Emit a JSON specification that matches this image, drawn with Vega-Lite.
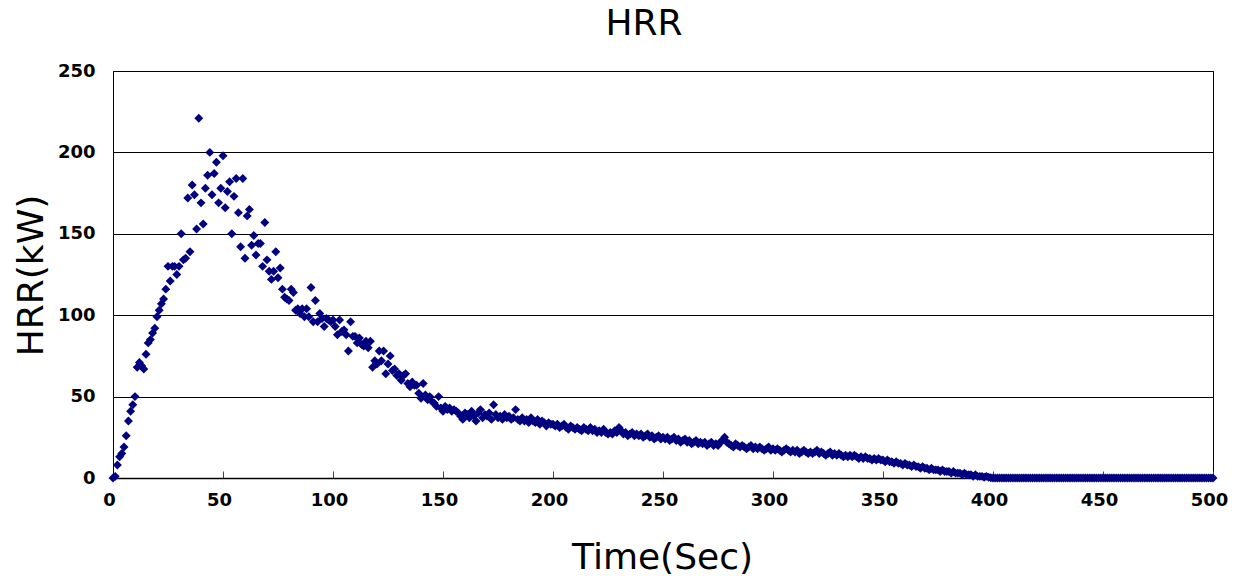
{
 "$schema": "https://vega.github.io/schema/vega-lite/v6.json",
 "width": 1100,
 "height": 407,
 "autosize": {"type": "none"},
 "padding": {"left": 113, "top": 71, "right": 24, "bottom": 98},
 "background": "white",
 "title": {"text": "HRR", "font": "DejaVu Sans", "fontSize": 36, "fontWeight": "normal", "color": "black", "anchor": "middle", "frame": "group", "dx": -19, "dy": 43, "offset": 34, "baseline": "alphabetic"},
 "config": {"view": {"stroke": "black", "strokeWidth": 1}},
 "data": {"values": [
{"t":0,"h":0},{"t":1,"h":1},{"t":2,"h":8},{"t":3,"h":13},{"t":4,"h":15},{"t":5,"h":19},{"t":6,"h":26},{"t":7,"h":35},{"t":8,"h":41},{"t":9,"h":45},
{"t":10,"h":50},{"t":11,"h":68},{"t":12,"h":71},{"t":13,"h":69},{"t":14,"h":67},{"t":15,"h":76},{"t":16,"h":83},{"t":17,"h":85},{"t":18,"h":89},{"t":19,"h":92},
{"t":20,"h":99},{"t":21,"h":103},{"t":22,"h":107},{"t":23,"h":110},{"t":24,"h":116},{"t":25,"h":130},{"t":26,"h":121},{"t":27,"h":130},{"t":28,"h":130},{"t":29,"h":125},
{"t":30,"h":130},{"t":31,"h":150},{"t":32,"h":134},{"t":33,"h":135},{"t":34,"h":172},{"t":35,"h":139},{"t":36,"h":180},{"t":37,"h":174},{"t":38,"h":153},{"t":39,"h":221},
{"t":40,"h":169},{"t":41,"h":156},{"t":42,"h":178},{"t":43,"h":186},{"t":44,"h":200},{"t":45,"h":174},{"t":46,"h":187},{"t":47,"h":194},{"t":48,"h":169},{"t":49,"h":178},
{"t":50,"h":198},{"t":51,"h":166},{"t":52,"h":176},{"t":53,"h":182},{"t":54,"h":150},{"t":55,"h":173},{"t":56,"h":184},{"t":57,"h":163},{"t":58,"h":142},{"t":59,"h":184},
{"t":60,"h":135},{"t":61,"h":161},{"t":62,"h":165},{"t":63,"h":143},{"t":64,"h":149},{"t":65,"h":137},{"t":66,"h":144},{"t":67,"h":144},{"t":68,"h":130},{"t":69,"h":157},
{"t":70,"h":134},{"t":71,"h":127},{"t":72,"h":122},{"t":73,"h":127},{"t":74,"h":139},{"t":75,"h":123},{"t":76,"h":129},{"t":77,"h":116},{"t":78,"h":111},{"t":79,"h":110},
{"t":80,"h":109},{"t":81,"h":116},{"t":82,"h":114},{"t":83,"h":103},{"t":84,"h":104},{"t":85,"h":101},{"t":86,"h":104},{"t":87,"h":99},{"t":88,"h":104},{"t":89,"h":99},
{"t":90,"h":117},{"t":91,"h":96},{"t":92,"h":109},{"t":93,"h":96},{"t":94,"h":101},{"t":95,"h":98},{"t":96,"h":93},{"t":97,"h":98},{"t":98,"h":97},{"t":99,"h":96},
{"t":100,"h":97},{"t":101,"h":93},{"t":102,"h":88},{"t":103,"h":97},{"t":104,"h":90},{"t":105,"h":91},{"t":106,"h":88},{"t":107,"h":78},{"t":108,"h":96},{"t":109,"h":87},
{"t":110,"h":87},{"t":111,"h":83},{"t":112,"h":86},{"t":113,"h":82},{"t":114,"h":81},{"t":115,"h":84},{"t":116,"h":80},{"t":117,"h":84},{"t":118,"h":68},{"t":119,"h":72},
{"t":120,"h":70},{"t":121,"h":78},{"t":122,"h":72},{"t":123,"h":78},{"t":124,"h":64},{"t":125,"h":70},{"t":126,"h":75},{"t":127,"h":66},{"t":128,"h":67},{"t":129,"h":63},
{"t":130,"h":64},{"t":131,"h":60},{"t":132,"h":63},{"t":133,"h":64},{"t":134,"h":58},{"t":135,"h":56},{"t":136,"h":59},{"t":137,"h":57},{"t":138,"h":57},{"t":139,"h":52},
{"t":140,"h":49},{"t":141,"h":58},{"t":142,"h":51},{"t":143,"h":48},{"t":144,"h":50},{"t":145,"h":47},{"t":146,"h":46},{"t":147,"h":44},{"t":148,"h":50},{"t":149,"h":43},
{"t":150,"h":41},{"t":151,"h":44},{"t":152,"h":42},{"t":153,"h":43},{"t":154,"h":41},{"t":155,"h":42},{"t":156,"h":41},{"t":157,"h":40},{"t":158,"h":38},{"t":159,"h":36},
{"t":160,"h":40},{"t":161,"h":39},{"t":162,"h":37},{"t":163,"h":41},{"t":164,"h":38},{"t":165,"h":35},{"t":166,"h":40},{"t":167,"h":42},{"t":168,"h":37},{"t":169,"h":39},
{"t":170,"h":38},{"t":171,"h":40},{"t":172,"h":36},{"t":173,"h":45},{"t":174,"h":39},{"t":175,"h":37},{"t":176,"h":38},{"t":177,"h":36},{"t":178,"h":39},{"t":179,"h":37},
{"t":180,"h":38},{"t":181,"h":36},{"t":182,"h":37},{"t":183,"h":42},{"t":184,"h":36},{"t":185,"h":35},{"t":186,"h":37},{"t":187,"h":35},{"t":188,"h":36},{"t":189,"h":34},
{"t":190,"h":37},{"t":191,"h":35},{"t":192,"h":34},{"t":193,"h":36},{"t":194,"h":33},{"t":195,"h":35},{"t":196,"h":34},{"t":197,"h":32},{"t":198,"h":34},{"t":199,"h":33},
{"t":200,"h":33},{"t":201,"h":32},{"t":202,"h":33},{"t":203,"h":31},{"t":204,"h":32},{"t":205,"h":33},{"t":206,"h":31},{"t":207,"h":30},{"t":208,"h":32},{"t":209,"h":31},
{"t":210,"h":30},{"t":211,"h":31},{"t":212,"h":30},{"t":213,"h":29},{"t":214,"h":31},{"t":215,"h":30},{"t":216,"h":29},{"t":217,"h":31},{"t":218,"h":29},{"t":219,"h":30},
{"t":220,"h":28},{"t":221,"h":29},{"t":222,"h":28},{"t":223,"h":30},{"t":224,"h":28},{"t":225,"h":27},{"t":226,"h":28},{"t":227,"h":27},{"t":228,"h":29},{"t":229,"h":28},
{"t":230,"h":31},{"t":231,"h":29},{"t":232,"h":27},{"t":233,"h":28},{"t":234,"h":26},{"t":235,"h":27},{"t":236,"h":28},{"t":237,"h":26},{"t":238,"h":27},{"t":239,"h":26},
{"t":240,"h":27},{"t":241,"h":25},{"t":242,"h":26},{"t":243,"h":27},{"t":244,"h":25},{"t":245,"h":26},{"t":246,"h":24},{"t":247,"h":25},{"t":248,"h":26},{"t":249,"h":24},
{"t":250,"h":25},{"t":251,"h":24},{"t":252,"h":25},{"t":253,"h":23},{"t":254,"h":24},{"t":255,"h":25},{"t":256,"h":23},{"t":257,"h":24},{"t":258,"h":22},{"t":259,"h":23},
{"t":260,"h":24},{"t":261,"h":22},{"t":262,"h":23},{"t":263,"h":21},{"t":264,"h":22},{"t":265,"h":23},{"t":266,"h":21},{"t":267,"h":22},{"t":268,"h":21},{"t":269,"h":22},
{"t":270,"h":20},{"t":271,"h":21},{"t":272,"h":22},{"t":273,"h":20},{"t":274,"h":21},{"t":275,"h":20},{"t":276,"h":22},{"t":277,"h":23},{"t":278,"h":25},{"t":279,"h":22},
{"t":280,"h":21},{"t":281,"h":20},{"t":282,"h":19},{"t":283,"h":21},{"t":284,"h":20},{"t":285,"h":19},{"t":286,"h":20},{"t":287,"h":19},{"t":288,"h":18},{"t":289,"h":19},
{"t":290,"h":20},{"t":291,"h":18},{"t":292,"h":19},{"t":293,"h":18},{"t":294,"h":19},{"t":295,"h":18},{"t":296,"h":17},{"t":297,"h":18},{"t":298,"h":19},{"t":299,"h":17},
{"t":300,"h":18},{"t":301,"h":17},{"t":302,"h":18},{"t":303,"h":17},{"t":304,"h":16},{"t":305,"h":17},{"t":306,"h":18},{"t":307,"h":17},{"t":308,"h":16},{"t":309,"h":17},
{"t":310,"h":16},{"t":311,"h":17},{"t":312,"h":15},{"t":313,"h":16},{"t":314,"h":17},{"t":315,"h":16},{"t":316,"h":15},{"t":317,"h":16},{"t":318,"h":15},{"t":319,"h":16},
{"t":320,"h":17},{"t":321,"h":15},{"t":322,"h":16},{"t":323,"h":15},{"t":324,"h":14},{"t":325,"h":15},{"t":326,"h":16},{"t":327,"h":14},{"t":328,"h":15},{"t":329,"h":14},
{"t":330,"h":15},{"t":331,"h":14},{"t":332,"h":13},{"t":333,"h":14},{"t":334,"h":13},{"t":335,"h":14},{"t":336,"h":13},{"t":337,"h":14},{"t":338,"h":13},{"t":339,"h":12},
{"t":340,"h":13},{"t":341,"h":12},{"t":342,"h":13},{"t":343,"h":12},{"t":344,"h":12},{"t":345,"h":11},{"t":346,"h":12},{"t":347,"h":11},{"t":348,"h":12},{"t":349,"h":11},
{"t":350,"h":11},{"t":351,"h":10},{"t":352,"h":11},{"t":353,"h":10},{"t":354,"h":10},{"t":355,"h":9},{"t":356,"h":10},{"t":357,"h":9},{"t":358,"h":9},{"t":359,"h":8},
{"t":360,"h":9},{"t":361,"h":8},{"t":362,"h":8},{"t":363,"h":7},{"t":364,"h":8},{"t":365,"h":7},{"t":366,"h":7},{"t":367,"h":6},{"t":368,"h":7},{"t":369,"h":6},
{"t":370,"h":6},{"t":371,"h":5},{"t":372,"h":6},{"t":373,"h":5},{"t":374,"h":5},{"t":375,"h":5},{"t":376,"h":4},{"t":377,"h":5},{"t":378,"h":4},{"t":379,"h":4},
{"t":380,"h":4},{"t":381,"h":3},{"t":382,"h":4},{"t":383,"h":3},{"t":384,"h":3},{"t":385,"h":3},{"t":386,"h":2},{"t":387,"h":3},{"t":388,"h":2},{"t":389,"h":2},
{"t":390,"h":2},{"t":391,"h":1},{"t":392,"h":2},{"t":393,"h":1},{"t":394,"h":1},{"t":395,"h":1},{"t":396,"h":0.5},{"t":397,"h":1},{"t":398,"h":0.5},{"t":399,"h":0.2},
{"t":400,"h":0},{"t":401,"h":0},{"t":402,"h":0},{"t":403,"h":0},{"t":404,"h":0},{"t":405,"h":0},{"t":406,"h":0},{"t":407,"h":0},{"t":408,"h":0},{"t":409,"h":0},
{"t":410,"h":0},{"t":411,"h":0},{"t":412,"h":0},{"t":413,"h":0},{"t":414,"h":0},{"t":415,"h":0},{"t":416,"h":0},{"t":417,"h":0},{"t":418,"h":0},{"t":419,"h":0},
{"t":420,"h":0},{"t":421,"h":0},{"t":422,"h":0},{"t":423,"h":0},{"t":424,"h":0},{"t":425,"h":0},{"t":426,"h":0},{"t":427,"h":0},{"t":428,"h":0},{"t":429,"h":0},
{"t":430,"h":0},{"t":431,"h":0},{"t":432,"h":0},{"t":433,"h":0},{"t":434,"h":0},{"t":435,"h":0},{"t":436,"h":0},{"t":437,"h":0},{"t":438,"h":0},{"t":439,"h":0},
{"t":440,"h":0},{"t":441,"h":0},{"t":442,"h":0},{"t":443,"h":0},{"t":444,"h":0},{"t":445,"h":0},{"t":446,"h":0},{"t":447,"h":0},{"t":448,"h":0},{"t":449,"h":0},
{"t":450,"h":0},{"t":451,"h":0},{"t":452,"h":0},{"t":453,"h":0},{"t":454,"h":0},{"t":455,"h":0},{"t":456,"h":0},{"t":457,"h":0},{"t":458,"h":0},{"t":459,"h":0},
{"t":460,"h":0},{"t":461,"h":0},{"t":462,"h":0},{"t":463,"h":0},{"t":464,"h":0},{"t":465,"h":0},{"t":466,"h":0},{"t":467,"h":0},{"t":468,"h":0},{"t":469,"h":0},
{"t":470,"h":0},{"t":471,"h":0},{"t":472,"h":0},{"t":473,"h":0},{"t":474,"h":0},{"t":475,"h":0},{"t":476,"h":0},{"t":477,"h":0},{"t":478,"h":0},{"t":479,"h":0},
{"t":480,"h":0},{"t":481,"h":0},{"t":482,"h":0},{"t":483,"h":0},{"t":484,"h":0},{"t":485,"h":0},{"t":486,"h":0},{"t":487,"h":0},{"t":488,"h":0},{"t":489,"h":0},
{"t":490,"h":0},{"t":491,"h":0},{"t":492,"h":0},{"t":493,"h":0},{"t":494,"h":0},{"t":495,"h":0},{"t":496,"h":0},{"t":497,"h":0},{"t":498,"h":0},{"t":499,"h":0},
{"t":500,"h":0}
 ]},
 "mark": {"type": "point", "shape": "diamond", "filled": true, "color": "#000080", "opacity": 1, "size": 80},
 "encoding": {
  "x": {"field": "t", "type": "quantitative",
   "scale": {"domain": [0, 500], "nice": false, "zero": true},
   "axis": {"title": "Time(Sec)", "values": [0,50,100,150,200,250,300,350,400,450,500], "grid": false,
    "tickSize": -7, "tickColor": "#444", "domainColor": "black", "domainWidth": 1.5,
    "labelFont": "DejaVu Sans", "labelFontWeight": "bold", "labelFontSize": 18, "labelColor": "black",
    "labelPadding": 20, "labelOffset": -4, "labelFlush": false,
    "titleFont": "DejaVu Sans", "titleFontSize": 36, "titleFontWeight": "normal", "titleColor": "black",
    "titleX": 549, "titleY": 90, "titleAlign": "center", "titleBaseline": "alphabetic"}},
  "y": {"field": "h", "type": "quantitative",
   "scale": {"domain": [0, 250], "nice": false},
   "axis": {"title": "HRR(kW)", "values": [0,50,100,150,200,250], "grid": true, "gridColor": "black", "gridOpacity": 1, "gridWidth": 1,
    "ticks": false, "domainColor": "black", "domainWidth": 1,
    "labelFont": "DejaVu Sans", "labelFontWeight": "bold", "labelFontSize": 18, "labelColor": "black", "labelPadding": 18,
    "titleFont": "DejaVu Sans", "titleFontSize": 36, "titleFontWeight": "normal", "titleColor": "black",
    "titleX": -71, "titleY": 204, "titleAlign": "center", "titleBaseline": "alphabetic", "titleAngle": 270}}
 }
}
